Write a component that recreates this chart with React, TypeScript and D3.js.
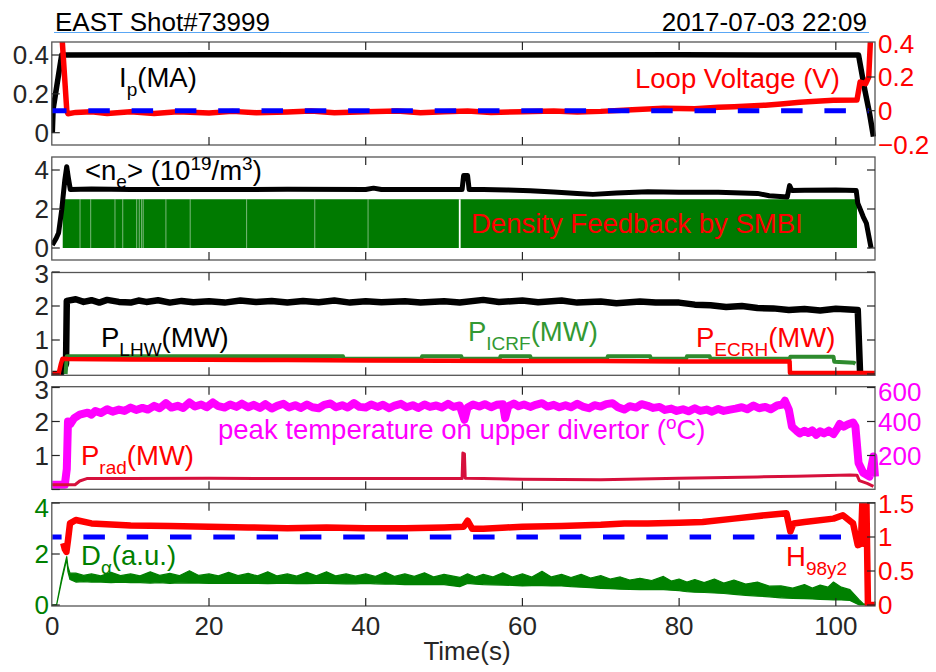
import * as d3 from 'd3';

const FONT = '"Liberation Sans", Arial, Helvetica, sans-serif';

// time axis (s)
const xTicks = [0, 20, 40, 60, 80, 100];

// panel 1: plasma current (MA) and loop voltage (V)
const ipData: [number, number][] = [
	[0, 0], [0.1, 0.12], [1.2, 0.4], [20, 0.401], [50, 0.4], [80, 0.401], [102.9, 0.4],
	[103.7, 0.22], [104.3, 0.1], [104.8, -0.02],
];
const loopV: [number, number][] = [
	[1.15, 0.5], [1.85, 0.0], [2, -0.018], [3, -0.01], [5, -0.006], [7, -0.016], [10, -0.006],
	[13, -0.016], [16, -0.006], [20, -0.013], [23, -0.004], [26, -0.012], [30, -0.008],
	[33, -0.002], [36, -0.012], [40, -0.006], [44, -0.002], [47, -0.012], [50, -0.006],
	[53, -0.002], [56, -0.01], [60, -0.006], [64, -0.002], [67, -0.008], [70, -0.004],
	[74, 0.006], [78, 0.014], [82, 0.012], [85, 0.02], [87, 0.023], [91, 0.033], [93, 0.04],
	[95.4, 0.05], [97.5, 0.056], [99.7, 0.062], [102.7, 0.064], [103.1, 0.17], [103.8, 0.16],
	[104.2, 0.2], [104.4, 0.4], [104.5, 0.5],
];

// panel 2: line-averaged density and SMBI feedback pulses
const neData: [number, number][] = [
	[0, 0.15], [0.5, 0.5], [0.8, 0.77], [1.2, 1.95], [1.6, 3.5], [1.84, 4.17], [2.05, 3.6],
	[2.3, 3.0], [5, 3.03], [10, 3.0], [20, 3.0], [30, 3.01], [40, 3.0], [41, 3.07], [42, 3.0],
	[50, 3.0], [52.3, 3.0], [52.5, 3.72], [53, 3.72], [53.2, 3.0], [55, 3.0], [58, 2.98],
	[61, 2.93], [64, 2.87], [67, 2.8], [69, 2.75], [72, 2.82], [76, 2.88], [80, 2.86],
	[85, 2.86], [90, 2.8], [91.5, 2.68], [93.8, 2.62], [94.1, 3.2], [94.4, 2.95], [96, 2.96],
	[100, 2.98], [102.6, 2.95], [102.8, 2.3], [103.5, 1.6], [103.9, 1.27], [104.5, 0.0],
];
const smbiSpan = [1.33, 102.7];
const smbiLevel = 2.5;
const smbiGaps = [3.54, 4.9, 8.0, 8.99, 10.77, 11.1, 11.4, 11.6, 14.5, 17.6, 24.8, 33.5, 40.3, 52.0];

// panel 3: heating powers (MW)
const lhwData: [number, number][] = [
	[0, 0], [1.0, 0], [1.4, 0.1], [1.75, 0.3], [1.85, 2.15], [3, 2.2], [4, 2.12], [5, 2.17],
	[6, 2.1], [7, 2.18], [8.5, 2.12], [10, 2.1], [11, 2.16], [12, 2.12], [13.5, 2.17], [15, 2.1],
	[16.5, 2.15], [18, 2.11], [20, 2.14], [22, 2.1], [24, 2.16], [26, 2.12], [28, 2.15], [30, 2.1],
	[32, 2.15], [34, 2.11], [36, 2.16], [38, 2.1], [40, 2.14], [42, 2.11], [45, 2.14], [47, 2.1],
	[50, 2.14], [52, 2.1], [55, 2.18], [57, 2.12], [60, 2.16], [62, 2.11], [65, 2.16], [67, 2.1],
	[70, 2.13], [72, 2.08], [75, 2.13], [77, 2.1], [80, 2.1], [82, 2.04], [84, 2.02], [86, 1.97],
	[88, 2.0], [90, 1.94], [92, 1.93], [94, 1.88], [96, 1.91], [98, 1.87], [100, 1.92],
	[102.8, 1.88], [103.1, 0.0],
];
const icrfData: [number, number][] = [
	[1.7, 0], [1.85, 0.52], [37.1, 0.52], [37.2, 0.45], [47.1, 0.45], [47.2, 0.52], [52.2, 0.52],
	[52.3, 0.45], [57.1, 0.45], [57.2, 0.52], [61, 0.52], [61.1, 0.45], [70.8, 0.45],
	[70.9, 0.52], [76.3, 0.52], [76.4, 0.45], [80.9, 0.45], [81, 0.52], [83.9, 0.52], [84, 0.45],
	[94.1, 0.45], [94.2, 0.51], [99.7, 0.51], [99.8, 0.36], [102.3, 0.33], [102.5, 0.3],
];
const ecrhData: [number, number][] = [
	[0, 0], [0.8, 0], [1.1, 0.3], [1.3, 0.45], [2, 0.44], [10, 0.43], [20, 0.42], [30, 0.41],
	[40, 0.4], [50, 0.39], [60, 0.38], [70, 0.38], [80, 0.37], [94.1, 0.37], [94.15, 0.03],
	[105, 0.03],
];

// panel 4: divertor peak temperature (oC) and radiated power (MW)
const tempData: [number, number][] = [
	[0, 28], [1.6, 28], [1.85, 120], [2.0, 400], [2.3, 385], [2.8, 420], [3.5, 440], [4.5, 452],
	[5, 440], [5.5, 462], [6.2, 450], [7, 472], [7.7, 458], [8.5, 470], [9.2, 462], [10, 482],
	[10.7, 468], [11.5, 480], [12.2, 470], [13, 492], [13.7, 478], [14.5, 508], [15.2, 482],
	[16, 492], [16.7, 480], [17.5, 512], [18.2, 488], [19, 500], [19.7, 484], [20.5, 512],
	[21.2, 490], [22, 482], [22.7, 500], [23.5, 486], [24.2, 505], [25, 484], [25.7, 498],
	[26.5, 480], [27.2, 502], [28, 476], [28.7, 492], [29.5, 504], [30.2, 482], [31, 496],
	[31.7, 480], [32.5, 500], [33.2, 484], [34, 478], [34.7, 498], [35.5, 506], [36.2, 484],
	[37, 496], [37.7, 482], [38.5, 508], [39.2, 486], [40, 482], [40.7, 500], [41.5, 486],
	[42.2, 498], [43, 478], [43.7, 494], [44.5, 504], [45.2, 484], [46, 496], [46.7, 480],
	[47.5, 500], [48.2, 486], [49, 494], [49.7, 482], [50.5, 504], [51.2, 486], [52, 494],
	[52.6, 410], [53, 482], [53.7, 500], [54.5, 488], [55.2, 502], [56, 484], [56.7, 498],
	[57.5, 502], [57.8, 420], [58.2, 490], [58.9, 506], [59.5, 490], [60.2, 500], [61, 486],
	[61.7, 498], [62.5, 508], [63.2, 488], [64, 498], [64.7, 484], [65.5, 496], [66.2, 484],
	[67, 504], [67.7, 488], [68.5, 478], [69.2, 496], [70, 488], [70.7, 502], [71.5, 508],
	[72.2, 484], [73, 470], [73.7, 490], [74.5, 482], [75.2, 502], [76, 492], [76.7, 480],
	[77.5, 486], [78.2, 468], [79, 476], [79.7, 462], [80.5, 472], [81.2, 460], [82, 478],
	[82.7, 462], [83.5, 470], [84.2, 458], [85, 474], [85.7, 462], [86.5, 470], [87.2, 476],
	[88, 484], [88.7, 472], [89.5, 494], [90.2, 478], [91, 486], [91.7, 472], [92.5, 494],
	[93.2, 500], [93.5, 522], [94.0, 470], [94.4, 370], [95, 345], [95.4, 330], [96, 345],
	[96.5, 332], [97, 348], [97.5, 322], [98, 342], [98.5, 330], [99.1, 346], [99.7, 326],
	[100.2, 360], [100.5, 385], [101, 370], [101.5, 382], [102.2, 394], [102.5, 370],
	[102.9, 156], [103.5, 98], [104.3, 76], [104.8, 194], [105, 76],
];
const pradData: [number, number][] = [
	[0, 0.14], [2.9, 0.14], [3.5, 0.25], [4.4, 0.32], [10, 0.32], [20, 0.33], [30, 0.32],
	[40, 0.32], [50, 0.32], [52.3, 0.32], [52.4, 1.07], [52.6, 1.05], [52.7, 0.33], [55, 0.32],
	[60, 0.3], [70, 0.29], [80, 0.33], [90, 0.37], [95, 0.39], [101.8, 0.43], [102.7, 0.42],
	[103, 0.26], [104, 0.18], [104.8, 0.09],
];

// panel 5: H98y2 confinement factor and D-alpha band [t, low, high]
const h98Data: [number, number][] = [
	[1.4, 0.91], [1.6, 0.82], [1.8, 0.78], [2.0, 0.95], [2.26, 1.2], [3, 1.25], [5, 1.2],
	[10, 1.17], [15, 1.16], [20, 1.15], [25, 1.14], [30, 1.13], [35, 1.14], [40, 1.13],
	[45, 1.13], [50, 1.14], [52.5, 1.15], [53, 1.24], [53.6, 1.12], [55, 1.12], [58, 1.14],
	[60, 1.15], [65, 1.16], [70, 1.18], [73, 1.2], [76, 1.2], [80, 1.21], [83, 1.22],
	[87, 1.27], [91, 1.32], [93.7, 1.35], [94.2, 1.08], [94.6, 1.2], [96, 1.22], [99.7, 1.27],
	[100.9, 1.32], [102.2, 1.2], [102.8, 0.88], [103.2, 0.9], [103.4, 1.55], [103.6, 0.9],
	[103.9, 1.55], [104.1, 0.0], [105, 0.0],
];
const dalphaBand: [number, number, number][] = [
	[0, 0, 0], [0.55, 0, 0.02], [1.2, 0.95, 1.05], [1.84, 1.8, 1.9], [2.0, 1.3, 1.5],
	[2.26, 1.0, 1.25], [3, 0.9, 1.25], [4, 0.92, 1.16], [5, 0.9, 1.22], [6.2, 0.9, 1.14],
	[7.5, 0.88, 1.28], [8.7, 0.9, 1.15], [10, 0.88, 1.22], [11.2, 0.88, 1.14], [12.5, 0.86, 1.3],
	[13.7, 0.88, 1.16], [15, 0.85, 1.24], [16.2, 0.87, 1.15], [17.5, 0.86, 1.34], [18.7, 0.86, 1.16],
	[20, 0.85, 1.22], [21.2, 0.86, 1.14], [22.5, 0.85, 1.28], [23.7, 0.86, 1.15], [25, 0.85, 1.24],
	[26.2, 0.85, 1.14], [27.5, 0.84, 1.3], [28.7, 0.85, 1.14], [30, 0.85, 1.22], [31.2, 0.84, 1.13],
	[32.5, 0.84, 1.28], [33.7, 0.85, 1.14], [35, 0.85, 1.3], [36.2, 0.84, 1.14], [37.5, 0.83, 1.22],
	[38.7, 0.83, 1.13], [40, 0.85, 1.22], [41.2, 0.83, 1.12], [42.5, 0.82, 1.28], [43.7, 0.82, 1.12],
	[45, 0.8, 1.22], [46.2, 0.81, 1.12], [47.5, 0.8, 1.26], [48.7, 0.8, 1.1], [50, 0.8, 1.2],
	[52, 0.72, 1.08], [53, 0.85, 1.22], [54, 0.82, 1.1], [55, 0.8, 1.2], [56.2, 0.79, 1.1],
	[57.5, 0.78, 1.26], [58.7, 0.77, 1.1], [60, 0.75, 1.22], [61.2, 0.76, 1.1], [62.5, 0.76, 1.32],
	[63.7, 0.75, 1.1], [65, 0.75, 1.2], [66.2, 0.72, 1.08], [67.5, 0.7, 1.2], [68.7, 0.68, 1.06],
	[70, 0.65, 1.15], [71.2, 0.64, 1.02], [72.5, 0.62, 1.1], [73.7, 0.61, 0.98], [75, 0.6, 1.05],
	[76.5, 0.6, 0.96], [78, 0.6, 1.12], [79, 0.58, 0.94], [80, 0.56, 1.02], [81, 0.52, 0.9],
	[82, 0.5, 1.0], [83.2, 0.49, 0.88], [84.5, 0.47, 1.02], [85.7, 0.45, 0.86], [87, 0.42, 0.98],
	[88.5, 0.38, 0.82], [90, 0.35, 0.9], [91.5, 0.32, 0.74], [93, 0.28, 0.75], [94.5, 0.26, 0.66],
	[96, 0.25, 0.8], [97, 0.24, 0.66], [98, 0.22, 0.78], [99, 0.21, 0.7], [99.7, 0.2, 0.9],
	[100.7, 0.2, 0.7], [101.8, 0.18, 0.6], [103, 0.0, 0.2], [103.5, 0, 0.05], [104.5, 0, 0.03],
	[105, 0, 0.12],
];

const x = d3.scaleLinear().domain([0, 105]).range([52.3, 875]);

const y1L = d3.scaleLinear().domain([0, 0.4]).range([132.7, 55]);
const y1R = d3.scaleLinear().domain([-0.2, 0.4]).range([144.4, 43.3]);
const y2 = d3.scaleLinear().domain([0, 4]).range([248, 170]);
const y3 = d3.scaleLinear().domain([0, 3]).range([374, 272]);
const y4L = d3.scaleLinear().domain([0, 3]).range([489.5, 387.5]);
const y4R = d3.scaleLinear().domain([0, 600]).range([489.5, 387.5]);
const y5L = d3.scaleLinear().domain([0, 4]).range([605, 503]);
const y5R = d3.scaleLinear().domain([0, 1.5]).range([605, 503]);

const boxes = [
	{ top: 42, bottom: 145 },
	{ top: 157, bottom: 260 },
	{ top: 272.5, bottom: 375.3 },
	{ top: 386.7, bottom: 489.3 },
	{ top: 502.7, bottom: 606 },
];

const fmt = (v: number) => String(v).replace('-', '\u2212');

const path = (data: [number, number][], y: d3.ScaleLinear<number, number>) =>
	d3.line<[number, number]>().x(d => x(d[0])).y(d => y(d[1]))(data) || '';

type AxesProps = {
	i: number;
	yl: d3.ScaleLinear<number, number>;
	yr: d3.ScaleLinear<number, number>;
	lt: number[];
	rt: number[];
	ll: number[];
	rl: number[];
	lc: string;
	rc: string;
	shift?: Record<string, number>;
};

const Axes = ({ i, yl, yr, lt, rt, ll, rl, lc, rc, shift = {} }: AxesProps) => {
	const { top, bottom } = boxes[i];
	const x0 = x(0) - 0.5;
	const x1 = x(105);
	const L = 8;
	return (
		<g>
			<rect x={x0} y={top} width={x1 - x0} height={bottom - top} fill="none" stroke="#555" strokeWidth={1.3} />
			{xTicks.slice(1).map(t => (
				<g key={t} stroke="#262626" strokeWidth={1.2}>
					<line x1={x(t)} x2={x(t)} y1={top} y2={top + L} />
					<line x1={x(t)} x2={x(t)} y1={bottom} y2={bottom - L} />
				</g>
			))}
			{lt.map(v => (
				<line key={'l' + v} x1={x0} x2={x0 + L} y1={yl(v)} y2={yl(v)} stroke="#262626" strokeWidth={1.2} />
			))}
			{rt.map(v => (
				<line key={'r' + v} x1={x1} x2={x1 - L} y1={yr(v)} y2={yr(v)} stroke="#262626" strokeWidth={1.2} />
			))}
			{ll.map(v => (
				<text key={'ll' + v} x={49} y={yl(v) + (shift['l' + v] || 0)} dy="0.36em" textAnchor="end"
					fill={lc}>{fmt(v)}</text>
			))}
			{rl.map(v => (
				<text key={'rl' + v} x={878} y={yr(v) + (shift['r' + v] || 0)} dy="0.36em" textAnchor="start"
					fill={rc}>{fmt(v)}</text>
			))}
		</g>
	);
};

const Clip = ({ i }: { i: number }) => (
	<clipPath id={'clip' + i}>
		<rect x={x(0) - 1} y={boxes[i].top} width={x(105) - x(0) + 6} height={boxes[i].bottom - boxes[i].top} />
	</clipPath>
);

export default function App() {
	const period = 43.3;
	const dash = '21.5 21.8';
	const dalphaArea = d3.area<[number, number, number]>()
		.x(d => x(d[0]))
		.y0(d => y5L(d[1]))
		.y1(d => y5L(d[2]))(dalphaBand) || '';

	return (
		<svg width={936} height={672} style={{ position: 'absolute', left: 0, top: 0, background: '#fff' }}
			fontFamily={FONT} fontSize={26}>
			<defs>{boxes.map((_, i) => <Clip key={i} i={i} />)}</defs>

			<text x={55} y={31} fill="#000">EAST Shot#73999</text>
			<text x={867} y={31} textAnchor="end" fill="#000">2017-07-03 22:09</text>
			<line x1={54} x2={869} y1={32.5} y2={32.5} stroke="#5aa7f5" strokeWidth={1} />

			{/* panel 1 */}
			<g clipPath="url(#clip0)" fill="none" strokeLinejoin="round">
				<path d={path(ipData, y1L)} stroke="#000" strokeWidth={5.5} />
				<path d={path(loopV, y1R)} stroke="#ff0000" strokeWidth={5.5} />
				<line x1={x(0)} x2={x(104.2)} y1={y1R(0)} y2={y1R(0)} stroke="#0000ff" strokeWidth={5}
					strokeDasharray={dash} strokeDashoffset={(x(0) - 45) % period} />
			</g>
			<Axes i={0} yl={y1L} yr={y1R} lt={[0, 0.2, 0.4]} rt={[0, 0.2]} ll={[0, 0.2, 0.4]}
				rl={[-0.2, 0, 0.2, 0.4]} lc="#262626" rc="#ff0000" />
			<text x={119} y={87} fill="#000" fontSize={27.5}>
				I<tspan dy={9} fontSize={19}>p</tspan><tspan dy={-9}>(MA)</tspan>
			</text>
			<text x={635} y={88} fill="#ff0000" fontSize={27.5}>Loop Voltage (V)</text>

			{/* panel 2 */}
			<g clipPath="url(#clip1)">
				<rect x={x(smbiSpan[0])} width={x(smbiSpan[1]) - x(smbiSpan[0])} y={y2(smbiLevel)}
					height={y2(0) - y2(smbiLevel)} fill="#007a00" />
				{smbiGaps.map(t => (
					<line key={t} x1={x(t)} x2={x(t)} y1={y2(smbiLevel)} y2={y2(0)} stroke="#fff"
						strokeWidth={t > 50 ? 1.8 : 0.8} opacity={t > 50 ? 1 : 0.6} />
				))}
				<path d={path(neData, y2)} fill="none" stroke="#000" strokeWidth={5} strokeLinejoin="round" />
			</g>
			<Axes i={1} yl={y2} yr={y2} lt={[0, 2, 4]} rt={[0, 2, 4]} ll={[0, 2, 4]} rl={[]}
				lc="#262626" rc="#262626" />
			<text x={85} y={180} fill="#000" fontSize={27.5}>
				{'<n'}<tspan dy={8} fontSize={19}>e</tspan><tspan dy={-8}>{'> (10'}</tspan>
				<tspan dy={-10} fontSize={19}>19</tspan><tspan dy={10}>/m</tspan>
				<tspan dy={-10} fontSize={19}>3</tspan><tspan dy={10}>)</tspan>
			</text>
			<text x={471} y={233} fill="#ff0000" fontSize={27.5}>Density Feedback by SMBI</text>

			{/* panel 3 */}
			<g clipPath="url(#clip2)" fill="none" strokeLinejoin="round">
				<path d={path(lhwData, y3)} stroke="#000" strokeWidth={6.5} />
				<path d={path(icrfData, y3)} stroke="#2e8b2e" strokeWidth={4} />
				<path d={path(ecrhData, y3)} stroke="#ff0000" strokeWidth={4.5} />
			</g>
			<Axes i={2} yl={y3} yr={y3} lt={[0, 1, 2, 3]} rt={[0, 1, 2, 3]} ll={[0, 1, 2, 3]} rl={[]}
				lc="#262626" rc="#262626" shift={{ l0: -5, l3: 2 }} />
			<text x={101} y={346.7} fill="#000" fontSize={27.5}>
				P<tspan dy={9} fontSize={19}>LHW</tspan><tspan dy={-9}>(MW)</tspan>
			</text>
			<text x={468} y={341} fill="#339933" fontSize={27.5}>
				P<tspan dy={9} fontSize={19}>ICRF</tspan><tspan dy={-9}>(MW)</tspan>
			</text>
			<text x={696} y={346.7} fill="#ff0000" fontSize={27.5}>
				P<tspan dy={9} fontSize={19}>ECRH</tspan><tspan dy={-9}>(MW)</tspan>
			</text>

			{/* panel 4 */}
			<g clipPath="url(#clip3)" fill="none" strokeLinejoin="round">
				<path d={path(tempData, y4R)} stroke="#ff00ff" strokeWidth={8} />
				<path d={path(pradData, y4L)} stroke="#d6103c" strokeWidth={3} />
			</g>
			<Axes i={3} yl={y4L} yr={y4R} lt={[0, 1, 2, 3]} rt={[200, 400, 600]} ll={[1, 2, 3]}
				rl={[200, 400, 600]} lc="#262626" rc="#ff00ff" shift={{ l3: 2, r600: 4 }} />
			<text x={218} y={439} fill="#ff00ff" fontSize={27.5}>
				peak temperature on upper divertor (<tspan dy={-10} fontSize={19}>o</tspan><tspan dy={10}>C)</tspan>
			</text>
			<text x={81} y={465} fill="#ff0000" fontSize={27.5}>
				P<tspan dy={9} fontSize={19}>rad</tspan><tspan dy={-9}>(MW)</tspan>
			</text>

			{/* panel 5 */}
			<g clipPath="url(#clip4)" strokeLinejoin="round">
				<path d={dalphaArea} fill="#008000" stroke="#008000" strokeWidth={1.2} />
				<path d={path(h98Data, y5R)} fill="none" stroke="#ff0000" strokeWidth={6.5} />
				<line x1={x(0)} x2={x(102.9)} y1={y5R(1)} y2={y5R(1)} stroke="#0000ff" strokeWidth={5}
					strokeDasharray={dash} strokeDashoffset={(x(0) - 40.1) % period} />
			</g>
			<Axes i={4} yl={y5L} yr={y5R} lt={[0, 2, 4]} rt={[0, 0.5, 1, 1.5]} ll={[0, 2, 4]}
				rl={[0, 0.5, 1, 1.5]} lc="#008000" rc="#ff0000" shift={{ l4: 5, 'r1.5': 1 }} />
			<text x={81} y={565} fill="#008000" fontSize={27.5}>
				D<tspan dy={9} fontSize={19}>{'\u03b1'}</tspan><tspan dy={-9}>(a.u.)</tspan>
			</text>
			<text x={786} y={566} fill="#ff0000" fontSize={27.5}>
				H<tspan dy={9} fontSize={19}>98y2</tspan>
			</text>

			{xTicks.map(t => (
				<text key={t} x={x(t)} y={635} textAnchor="middle" fill="#262626">{t}</text>
			))}
			<text x={467} y={660} textAnchor="middle" fill="#262626">Time(s)</text>
		</svg>
	);
}
